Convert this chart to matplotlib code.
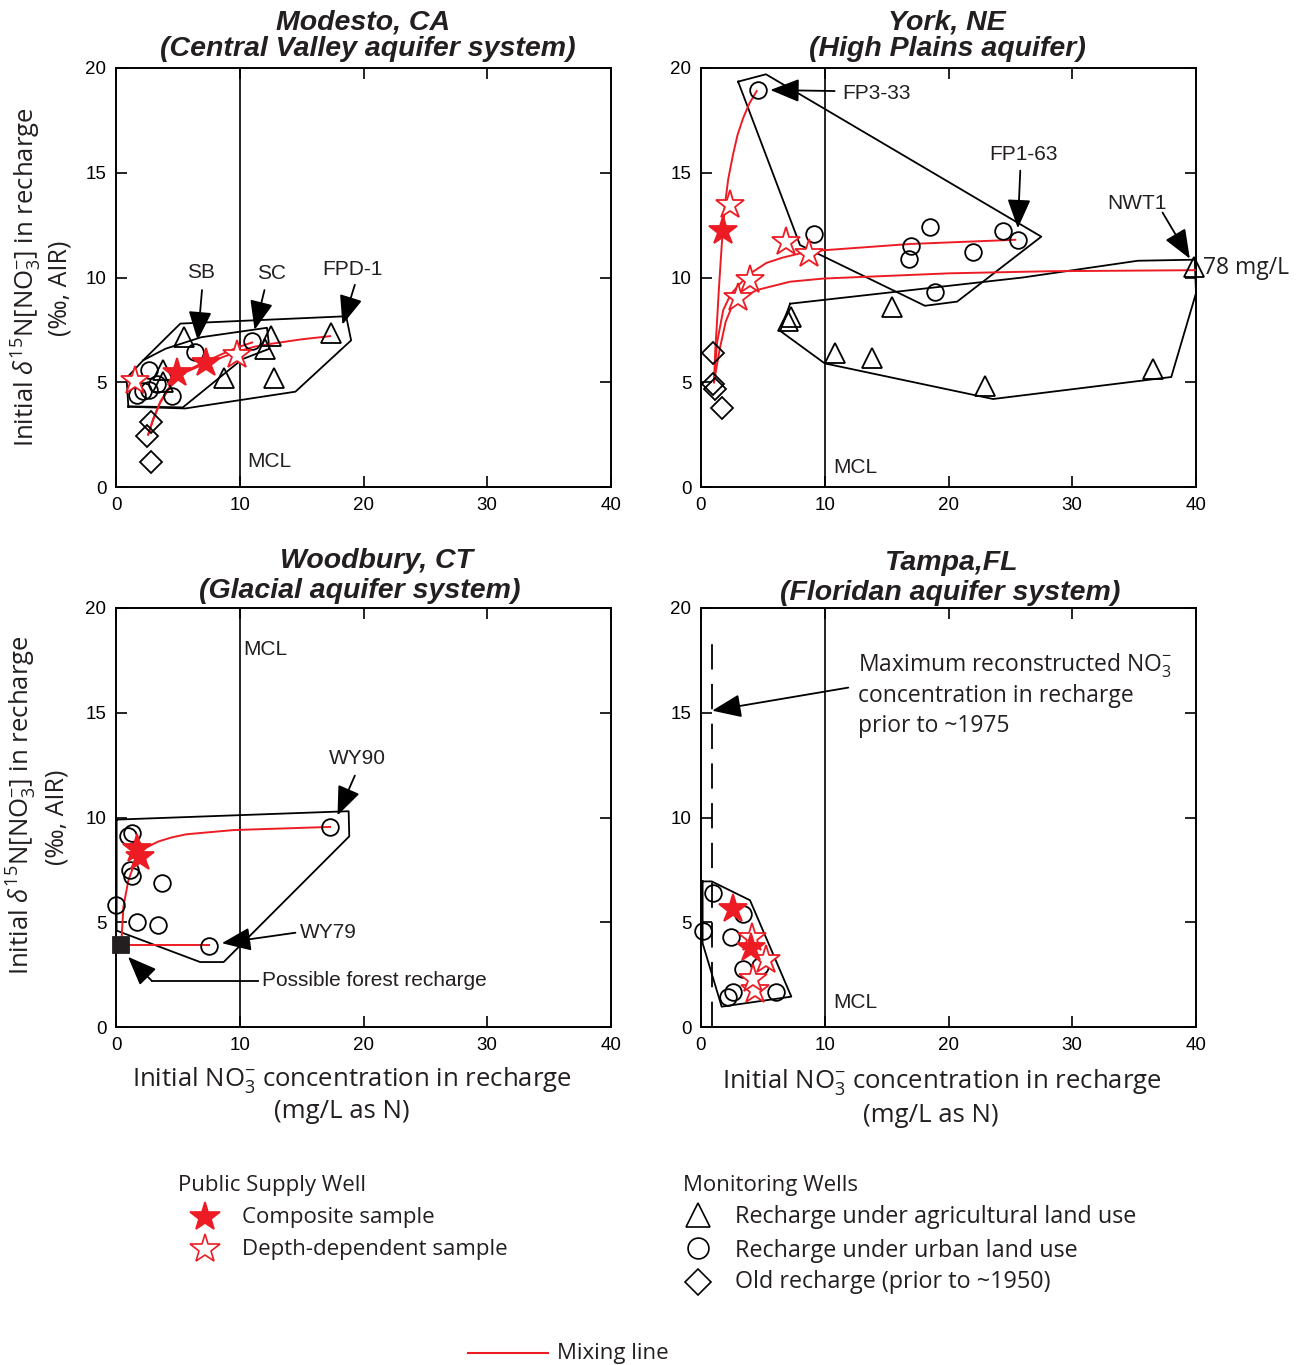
import matplotlib
matplotlib.use("Agg")
import matplotlib.pyplot as plt
from matplotlib.lines import Line2D

plt.rcParams['font.family'] = ['Liberation Sans', 'DejaVu Sans']
plt.rcParams['mathtext.fontset'] = 'custom'
plt.rcParams['mathtext.rm'] = 'Open Sans'
plt.rcParams['mathtext.it'] = 'Open Sans:italic'

W, H = 1301, 1365
RED = '#ed1c24'

# ---------------- data ----------------
# Modesto, CA
mod_tri_x = [5.5, 12.5, 12.0, 12.8, 8.7, 17.4, 3.8, 3.8]
mod_tri_y = [7.15, 7.2, 6.6, 5.2, 5.2, 7.35, 5.6, 5.0]
mod_cir_x = [6.4, 11.0, 2.7, 1.7, 2.2, 2.7, 4.5, 3.3]
mod_cir_y = [6.45, 6.95, 5.6, 4.4, 4.6, 4.65, 4.35, 4.9]
mod_dia_x = [2.8, 2.5, 2.8]
mod_dia_y = [3.1, 2.45, 1.2]
mod_star_f_x = [7.3, 4.9]
mod_star_f_y = [5.9, 5.45]
mod_star_o_x = [1.5, 9.8]
mod_star_o_y = [5.05, 6.3]
mod_mix1_x = [2.6, 3.0, 3.55, 4.4, 5.7, 7.05, 8.4, 9.75, 11.2, 12.7, 15.0, 17.3]
mod_mix1_y = [2.5, 3.2, 4.0, 4.8, 5.5, 5.85, 6.15, 6.45, 6.7, 6.85, 7.05, 7.2]
mod_mix2_x = [2.6, 3.0, 3.6, 4.4, 5.7, 7.1, 8.4, 9.75, 11.0]
mod_mix2_y = [2.5, 3.25, 4.1, 4.85, 5.55, 5.95, 6.3, 6.65, 6.9]
mod_env1_x = [1.0, 5.6, 14.5, 19.0, 18.6, 5.2, 2.2, 0.85, 1.0]
mod_env1_y = [3.83, 3.75, 4.55, 7.0, 8.15, 7.8, 6.05, 5.2, 3.83]
mod_env2_x = [1.0, 5.4, 10.2, 12.4, 12.2, 6.9, 4.0, 2.2]
mod_env2_y = [3.85, 3.8, 6.1, 6.6, 7.6, 7.15, 6.6, 6.05]

# York, NE
york_tri_x = [7.3, 7.0, 15.4, 10.8, 13.8, 22.95, 36.5, 39.8]
york_tri_y = [8.1, 7.9, 8.6, 6.4, 6.15, 4.8, 5.65, 10.5]
york_cir_x = [4.63, 9.1, 18.5, 17.0, 16.8, 22.0, 24.4, 25.6, 18.9]
york_cir_y = [18.95, 12.1, 12.4, 11.5, 10.9, 11.2, 12.2, 11.8, 9.3]
york_dia_x = [1.0, 1.0, 1.1, 1.7]
york_dia_y = [6.4, 4.9, 4.7, 3.75]
york_star_f_x = [1.8]
york_star_f_y = [12.2]
york_star_o_x = [2.35, 6.9, 8.7, 3.95, 3.0]
york_star_o_y = [13.45, 11.7, 11.1, 9.9, 9.0]
york_mix1_x = [1.05, 1.15, 1.27, 1.45, 1.67, 1.94, 2.2, 2.6, 2.95, 3.4, 3.9, 4.5]
york_mix1_y = [5.0, 6.5, 7.65, 9.5, 11.5, 13.5, 14.7, 15.9, 16.8, 17.6, 18.3, 18.9]
york_mix2_x = [1.05, 1.3, 1.8, 2.4, 3.15, 4.0, 5.3, 6.6, 8.0, 9.9, 16.9, 25.4]
york_mix2_y = [5.0, 6.9, 8.45, 9.2, 9.7, 10.2, 10.7, 10.95, 11.15, 11.3, 11.6, 11.8]
york_mix3_x = [1.05, 1.5, 2.0, 2.6, 3.4, 4.5, 5.85, 7.2, 9.9, 20.1, 28.2, 40.0]
york_mix3_y = [5.0, 6.55, 7.9, 8.75, 9.05, 9.4, 9.6, 9.8, 9.95, 10.2, 10.3, 10.35]
york_env1_x = [3.0, 5.25, 27.5, 20.7, 18.1, 8.0, 3.0]
york_env1_y = [19.35, 19.7, 11.95, 8.85, 8.65, 11.55, 19.35]
york_env2_x = [7.2, 26.0, 35.3, 39.9, 40.0, 38.0, 23.6, 10.0, 6.4, 7.2]
york_env2_y = [8.75, 10.0, 10.8, 10.85, 9.25, 5.25, 4.2, 5.9, 7.45, 8.75]

# Woodbury, CT
wood_cir_x = [17.3, 1.27, 1.0, 1.13, 1.27, 3.7, 0.0, 1.67, 3.4, 7.55]
wood_cir_y = [9.55, 9.25, 9.1, 7.5, 7.2, 6.85, 5.8, 5.0, 4.85, 3.85]
wood_star_f_x = [1.7, 1.9]
wood_star_f_y = [8.5, 8.1]
wood_sq_x = [0.38]
wood_sq_y = [3.9]
wood_mix1_x = [0.38, 0.46, 0.6, 1.0, 1.67, 2.4, 3.4, 4.5, 5.7, 9.5, 17.3]
wood_mix1_y = [3.9, 4.3, 5.75, 7.0, 8.1, 8.55, 8.85, 9.05, 9.2, 9.4, 9.55]
wood_mix2_x = [0.38, 7.55]
wood_mix2_y = [3.9, 3.9]
wood_env_x = [0.05, 18.8, 18.85, 8.7, 6.8, 0.05, 0.05]
wood_env_y = [9.9, 10.3, 9.1, 3.1, 3.1, 4.6, 9.9]

# Tampa, FL
tampa_cir_x = [1.0, 3.4, 0.13, 2.4, 3.4, 4.8, 2.6, 2.2, 6.05]
tampa_cir_y = [6.4, 5.4, 4.6, 4.3, 2.75, 2.9, 1.65, 1.45, 1.65]
tampa_star_f_x = [2.6, 4.0]
tampa_star_f_y = [5.65, 3.75]
tampa_star_o_x = [4.1, 5.25, 4.35, 4.2]
tampa_star_o_y = [4.25, 3.2, 1.75, 2.3]
tampa_env_x = [0.13, 0.86, 3.96, 7.3, 1.67, 0.13, 0.13]
tampa_env_y = [6.95, 6.95, 6.05, 1.45, 0.97, 4.0, 6.95]
tampa_max_x = [0.87, 0.87]
tampa_max_y = [0.0, 18.9]

x_ticks = [0, 10, 20, 30, 40]
y_ticks = [0, 5, 10, 15, 20]
MCL = 10

# ---------------- figure ----------------
fig = plt.figure(figsize=(W / 100, H / 100), dpi=100)


def rect(l, t, r, b):
    return [l / W, 1 - b / H, (r - l) / W, (b - t) / H]


def fx(x):
    return x / W


def fy(y):
    return 1 - y / H


def make_ax(r):
    ax = fig.add_axes(r)
    ax.set_xlim(0, 40)
    ax.set_ylim(0, 20)
    ax.set_xticks(x_ticks)
    ax.set_yticks(y_ticks)
    ax.tick_params(direction='in', top=True, right=True, length=8, width=1.2,
                   labelsize=13.5, pad=7, colors='black')
    for s in ax.spines.values():
        s.set_linewidth(1.4)
    ax.axvline(MCL, color='black', lw=1.2, zorder=1)
    return ax


MS = dict(ms=12, mew=1.3, ls='none', clip_on=False, zorder=5)


def tri(ax, x, y):
    ax.plot(x, y, marker='^', mfc='none', mec='black', **dict(MS, ms=15))


def cir(ax, x, y):
    ax.plot(x, y, marker='o', mfc='none', mec='black', **MS)


def dia(ax, x, y):
    ax.plot(x, y, marker='D', mfc='none', mec='black', **dict(MS, ms=11.5))


def star_f(ax, x, y):
    ax.plot(x, y, marker='*', mfc=RED, mec=RED, **dict(MS, ms=21))


def star_o(ax, x, y):
    ax.plot(x, y, marker='*', mfc='white', mec=RED, **dict(MS, ms=21))


def mix(ax, x, y):
    ax.plot(x, y, color=RED, lw=1.4, zorder=4)


def env(ax, x, y):
    ax.plot(x, y, color='black', lw=1.3, zorder=3, clip_on=False)


def arrow(ax, xy, xytext):
    ax.annotate('', xy=xy, xytext=xytext,
                arrowprops=dict(arrowstyle='-|>,head_length=1.0,head_width=0.4',
                                color='black', lw=1.3, mutation_scale=18,
                                shrinkA=0, shrinkB=0), zorder=6)


ANN = dict(fontsize=15, color='#231f20')

# Modesto
ax1 = make_ax(rect(116, 68, 611, 487))
env(ax1, mod_env1_x, mod_env1_y)
env(ax1, mod_env2_x, mod_env2_y)
mix(ax1, mod_mix1_x, mod_mix1_y)
mix(ax1, mod_mix2_x, mod_mix2_y)
tri(ax1, mod_tri_x, mod_tri_y)
cir(ax1, mod_cir_x, mod_cir_y)
dia(ax1, mod_dia_x, mod_dia_y)
star_o(ax1, mod_star_o_x, mod_star_o_y)
star_f(ax1, mod_star_f_x, mod_star_f_y)
ax1.text(6.9, 10.26, 'SB', ha='center', va='center', **ANN)
ax1.text(12.6, 10.17, 'SC', ha='center', va='center', **ANN)
ax1.text(19.1, 10.36, 'FPD-1', ha='center', va='center', **ANN)
ax1.text(10.6, 1.2, 'MCL', ha='left', va='center', **ANN)
arrow(ax1, (6.6, 7.0), (6.95, 9.4))
arrow(ax1, (11.2, 7.5), (12.0, 9.4))
arrow(ax1, (18.3, 7.75), (19.3, 9.65))

# York
ax2 = make_ax(rect(701, 68, 1196, 487))
env(ax2, york_env1_x, york_env1_y)
env(ax2, york_env2_x, york_env2_y)
mix(ax2, york_mix1_x, york_mix1_y)
mix(ax2, york_mix2_x, york_mix2_y)
mix(ax2, york_mix3_x, york_mix3_y)
tri(ax2, york_tri_x, york_tri_y)
cir(ax2, york_cir_x, york_cir_y)
dia(ax2, york_dia_x, york_dia_y)
star_o(ax2, york_star_o_x, york_star_o_y)
star_f(ax2, york_star_f_x, york_star_f_y)
ax2.text(11.4, 18.8, 'FP3-33', ha='left', va='center', **ANN)
ax2.text(26.1, 15.85, 'FP1-63', ha='center', va='center', **ANN)
ax2.text(35.2, 13.55, 'NWT1', ha='center', va='center', **ANN)
ax2.text(40.6, 10.45, '78 mg/L', ha='left', va='center', fontsize=16.5,
         family='Open Sans', color='#231f20')
ax2.text(10.7, 0.95, 'MCL', ha='left', va='center', **ANN)
arrow(ax2, (5.6, 18.95), (10.8, 18.9))
arrow(ax2, (25.6, 12.35), (25.8, 15.1))
arrow(ax2, (39.5, 10.9), (37.3, 13.1))

# Woodbury
ax3 = make_ax(rect(116, 608, 611, 1027))
env(ax3, wood_env_x, wood_env_y)
mix(ax3, wood_mix1_x, wood_mix1_y)
mix(ax3, wood_mix2_x, wood_mix2_y)
cir(ax3, wood_cir_x, wood_cir_y)
star_f(ax3, wood_star_f_x, wood_star_f_y)
ax3.plot(wood_sq_x, wood_sq_y, marker='s', mfc='#231f20', mec='#231f20',
         **dict(MS, ms=11))
ax3.text(10.3, 18.0, 'MCL', ha='left', va='center', **ANN)
ax3.text(19.5, 12.84, 'WY90', ha='center', va='center', **ANN)
ax3.text(14.9, 4.53, 'WY79', ha='left', va='center', **ANN)
ax3.text(11.8, 2.2, 'Possible forest recharge', ha='left', va='center', **ANN)
arrow(ax3, (17.9, 10.1), (19.3, 12.0))
arrow(ax3, (8.55, 4.0), (14.5, 4.5))
ax3.plot([11.5, 2.9], [2.2, 2.2], color='black', lw=1.3)
arrow(ax3, (0.97, 3.35), (2.9, 2.2))

# Tampa
ax4 = make_ax(rect(701, 608, 1196, 1027))
env(ax4, tampa_env_x, tampa_env_y)
ax4.plot(tampa_max_x, tampa_max_y, color='black', lw=1.3, dashes=(14, 8))
cir(ax4, tampa_cir_x, tampa_cir_y)
star_o(ax4, tampa_star_o_x, tampa_star_o_y)
star_f(ax4, tampa_star_f_x, tampa_star_f_y)
TA = dict(fontsize=16.5, family='Open Sans', color='#231f20', ha='left', va='center')
ax4.text(12.7, (1027 - 666) / 20.95, 'Maximum reconstructed NO$_3^{-}$', **TA)
ax4.text(12.7, (1027 - 696) / 20.95, 'concentration in recharge', **TA)
ax4.text(12.7, (1027 - 726) / 20.95, 'prior to ~1975', **TA)
ax4.text(10.7, 1.15, 'MCL', ha='left', va='center', **ANN)
arrow(ax4, (0.9, 15.1), (11.9, 16.2))

# ---------------- titles ----------------
TT = dict(fontsize=20.5, fontweight='bold', fontstyle='italic', ha='center',
          va='center', color='#231f20')
fig.text(fx(363), fy(22), 'Modesto, CA', **TT)
fig.text(fx(368), fy(49), '(Central Valley aquifer system)', **TT)
fig.text(fx(947), fy(22), 'York, NE', **TT)
fig.text(fx(947), fy(49), '(High Plains aquifer)', **TT)
fig.text(fx(377), fy(561), 'Woodbury, CT', **TT)
fig.text(fx(360), fy(591), '(Glacial aquifer system)', **TT)
fig.text(fx(952), fy(563), 'Tampa,FL', **TT)
fig.text(fx(950), fy(593), '(Floridan aquifer system)', **TT)

# ---------------- axis labels ----------------
LAB = dict(fontsize=18.5, family='Open Sans', color='#231f20', ha='center', va='center')
ylab1 = 'Initial $\\delta^{15}$N[NO$_3^{-}$] in recharge'
ylab2 = '(\u2030, AIR)'
fig.text(fx(27), fy(277), ylab1, rotation=90, **LAB)
fig.text(fx(60), fy(288), ylab2, rotation=90, **dict(LAB, fontsize=18))
fig.text(fx(22), fy(805), ylab1, rotation=90, **LAB)
fig.text(fx(57), fy(817), ylab2, rotation=90, **dict(LAB, fontsize=18))
xlab1 = 'Initial NO$_3^{-}$ concentration in recharge'
xlab2 = '(mg/L as N)'
fig.text(fx(352), fy(1080), xlab1, **LAB)
fig.text(fx(342), fy(1112), xlab2, **LAB)
fig.text(fx(942), fy(1082), xlab1, **LAB)
fig.text(fx(931), fy(1115), xlab2, **LAB)

# ---------------- legend ----------------
LG = dict(fontsize=16, family='Open Sans', color='#231f20', ha='left', va='center')
fig.text(fx(178), fy(1185), 'Public Supply Well', **LG)
fig.text(fx(242), fy(1217), 'Composite sample', **LG)
fig.text(fx(242), fy(1249), 'Depth-dependent sample', **LG)
fig.text(fx(683), fy(1185), 'Monitoring Wells', **LG)
fig.text(fx(735), fy(1217), 'Recharge under agricultural land use', **dict(LG, fontsize=16.8))
fig.text(fx(735), fy(1251), 'Recharge under urban land use', **dict(LG, fontsize=16.8))
fig.text(fx(735), fy(1282), 'Old recharge (prior to ~1950)', **dict(LG, fontsize=16.8))
fig.text(fx(557), fy(1353), 'Mixing line', **LG)


def leg_marker(x, y, **kw):
    fig.add_artist(Line2D([fx(x)], [fy(y)], transform=fig.transFigure, ls='none', **kw))


leg_marker(205, 1217, marker='*', ms=22, mfc=RED, mec=RED, mew=1.2)
leg_marker(205, 1249, marker='*', ms=22, mfc='white', mec=RED, mew=1.2)
leg_marker(698, 1215, marker='^', ms=17, mfc='none', mec='black', mew=1.2)
leg_marker(698, 1248, marker='o', ms=15, mfc='none', mec='black', mew=1.2)
leg_marker(698, 1282, marker='D', ms=13, mfc='none', mec='black', mew=1.2)
fig.add_artist(Line2D([fx(468), fx(548)], [fy(1353), fy(1353)], transform=fig.transFigure,
                      color=RED, lw=1.5))

fig.savefig('out.png', dpi=100)
